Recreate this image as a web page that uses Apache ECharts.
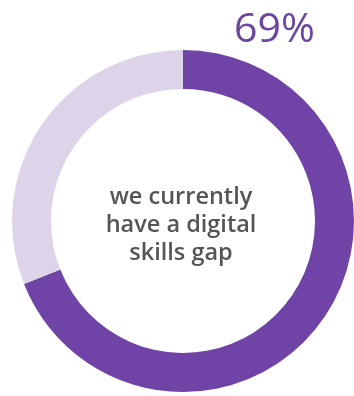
<!DOCTYPE html>
<html>
<head>
<meta charset="utf-8">
<script src="https://cdn.jsdelivr.net/npm/echarts@6/dist/echarts.min.js"></script>
<style>
  html, body { margin: 0; padding: 0; background: #ffffff; }
  #chart { width: 354px; height: 396px; }
</style>
</head>
<body>
<div id="chart"></div>
<script>
// Share of respondents reporting a digital skills gap
const categories = ['we currently have a digital skills gap', 'other'];
const values = [69, 31];
const centerLines = ['we currently', 'have a digital', 'skills gap'];

const chart = echarts.init(document.getElementById('chart'), null, { renderer: 'canvas' });

chart.setOption({
  animation: false,
  series: [{
    type: 'pie',
    center: [183, 221],
    radius: [132, 171],
    startAngle: 90,
    clockwise: true,
    silent: true,
    label: { show: false },
    labelLine: { show: false },
    itemStyle: { borderWidth: 0 },
    data: categories.map((name, i) => ({
      name,
      value: values[i],
      itemStyle: { color: i === 0 ? '#6f44a6' : '#ddd4ea' }
    }))
  }],
  graphic: [
    {
      type: 'text',
      left: 234,
      top: 10,
      style: {
        text: values[0] + '%',
        font: '500 41px "Open Sans", sans-serif',
        fill: '#6a469f'
      }
    },
    {
      type: 'text',
      x: 181,
      y: 225,
      style: {
        text: centerLines.join('\n'),
        font: '600 23.5px "Open Sans", sans-serif',
        fill: '#555555',
        lineHeight: 28,
        align: 'center',
        verticalAlign: 'middle'
      }
    }
  ]
});
</script>
</body>
</html>
